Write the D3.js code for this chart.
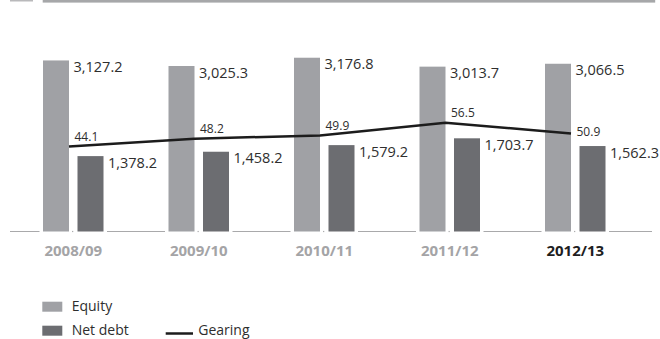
<!DOCTYPE html>
<html>
<head>
<meta charset="utf-8">
<script src="https://cdn.jsdelivr.net/npm/d3@7"></script>
<style>
  html, body { margin: 0; padding: 0; background: #fff; }
  svg { display: block; font-family: "Open Sans", "Noto Sans", sans-serif; }
</style>
</head>
<body>
<svg id="chart" width="660" height="339"></svg>
<script>
// values
const years = ["2008/09", "2009/10", "2010/11", "2011/12", "2012/13"];
const equity = [3127.2, 3025.3, 3176.8, 3013.7, 3066.5];
const netDebt = [1378.2, 1458.2, 1579.2, 1703.7, 1562.3];
const gearing = [44.1, 48.2, 49.9, 56.5, 50.9];
const legendLabels = ["Equity", "Net debt", "Gearing"];

const svg = d3.select("#chart");

const colors = {
  equity: "#a0a1a5",
  netDebt: "#6c6d71",
  line: "#1c1c1c",
  text: "#2e2e2e",
  axis: "#a9a9ab"
};

const baseY = 231.5;
const barW = 26;
const fmt = d3.format(",.1f");

// x: one band per year, bars sit around the band centre
const x = d3.scaleBand()
  .domain(years)
  .range([10.5, 638])
  .padding(0);
const cx = d => x(d) + x.bandwidth() / 2;

const y = d3.scaleLinear().domain([0, 3510]).range([baseY, baseY - 192]);
const yG = d3.scaleLinear().domain([0, 100]).range([baseY, baseY - 192.5]);

// header rules
svg.append("rect").attr("x", 10).attr("y", 0).attr("width", 23).attr("height", 1.5).attr("fill", "#b9b9bb");
svg.append("rect").attr("x", 42.7).attr("y", 0).attr("width", 612.5).attr("height", 2.6).attr("fill", "#a6a7a9");

// baseline
svg.append("line")
  .attr("x1", 10).attr("x2", 652)
  .attr("y1", baseY).attr("y2", baseY)
  .attr("stroke", colors.axis).attr("stroke-width", 1.2);

// white gaps around each bar pair
svg.selectAll("rect.gap")
  .data(years)
  .join("rect")
  .attr("class", "gap")
  .attr("x", d => cx(d) - 30.25 - 3.5)
  .attr("y", baseY - 2)
  .attr("width", 60.5 + 7)
  .attr("height", 4)
  .attr("fill", "#fff");

svg.selectAll("rect.dot")
  .data(years)
  .join("rect")
  .attr("class", "dot")
  .attr("x", d => cx(d) - 1.2)
  .attr("y", baseY - 0.6)
  .attr("width", 1.2)
  .attr("height", 1.2)
  .attr("fill", colors.axis);

// equity bars
svg.selectAll("rect.equity")
  .data(equity)
  .join("rect")
  .attr("class", "equity")
  .attr("x", (d, i) => cx(years[i]) - 30.25)
  .attr("y", d => y(d))
  .attr("width", barW)
  .attr("height", d => baseY - y(d))
  .attr("fill", colors.equity);

// net debt bars
svg.selectAll("rect.netdebt")
  .data(netDebt)
  .join("rect")
  .attr("class", "netdebt")
  .attr("x", (d, i) => cx(years[i]) + 4.25)
  .attr("y", d => y(d))
  .attr("width", barW)
  .attr("height", d => baseY - y(d))
  .attr("fill", colors.netDebt);

// bar value labels
svg.selectAll("text.eqlab")
  .data(equity)
  .join("text")
  .attr("class", "eqlab")
  .attr("x", (d, i) => cx(years[i]) - 30.25 + barW + 4.5)
  .attr("y", d => y(d) + 11.5)
  .attr("font-size", 14.5)
  .attr("fill", colors.text)
  .text(d => fmt(d));

svg.selectAll("text.ndlab")
  .data(netDebt)
  .join("text")
  .attr("class", "ndlab")
  .attr("x", (d, i) => cx(years[i]) + 4.25 + barW + 4.5)
  .attr("y", d => y(d) + 11.5)
  .attr("font-size", 14.5)
  .attr("fill", colors.text)
  .text(d => fmt(d));

// gearing line, anchored on the right edge of each equity bar
const gx = (d, i) => cx(years[i]) - 30.25 + barW;
const line = d3.line().x(gx).y(d => yG(d));

svg.append("path")
  .datum(gearing)
  .attr("d", line)
  .attr("fill", "none")
  .attr("stroke", colors.line)
  .attr("stroke-width", 2.5);

svg.selectAll("text.glab")
  .data(gearing)
  .join("text")
  .attr("class", "glab")
  .attr("x", (d, i) => gx(d, i) + 5.5)
  .attr("y", (d, i) => yG(d) + (i === gearing.length - 1 ? 2 : -5.5))
  .attr("font-size", 12)
  .attr("fill", colors.text)
  .text(d => d.toFixed(1));

// category labels
svg.selectAll("text.cat")
  .data(years)
  .join("text")
  .attr("class", "cat")
  .attr("x", d => cx(d))
  .attr("y", 256)
  .attr("text-anchor", "middle")
  .attr("font-size", 15)
  .attr("font-weight", "bold")
  .attr("fill", (d, i) => i === years.length - 1 ? "#1e1e1e" : "#a4a4a6")
  .text(d => d);

// legend
const lg = svg.append("g");
lg.append("rect").attr("x", 42.3).attr("y", 301.7).attr("width", 20).attr("height", 10).attr("fill", colors.equity);
lg.append("text").attr("x", 71.7).attr("y", 310.7).attr("font-size", 14).attr("fill", colors.text).text(legendLabels[0]);
lg.append("rect").attr("x", 42.3).attr("y", 325.7).attr("width", 20).attr("height", 10).attr("fill", colors.netDebt);
lg.append("text").attr("x", 71.7).attr("y", 334.6).attr("font-size", 14).attr("fill", colors.text).text(legendLabels[1]);
lg.append("line").attr("x1", 165.7).attr("x2", 193).attr("y1", 333.5).attr("y2", 333.5)
  .attr("stroke", colors.line).attr("stroke-width", 2.5);
lg.append("text").attr("x", 198.3).attr("y", 334.6).attr("font-size", 14).attr("fill", colors.text).text(legendLabels[2]);
</script>
</body>
</html>
